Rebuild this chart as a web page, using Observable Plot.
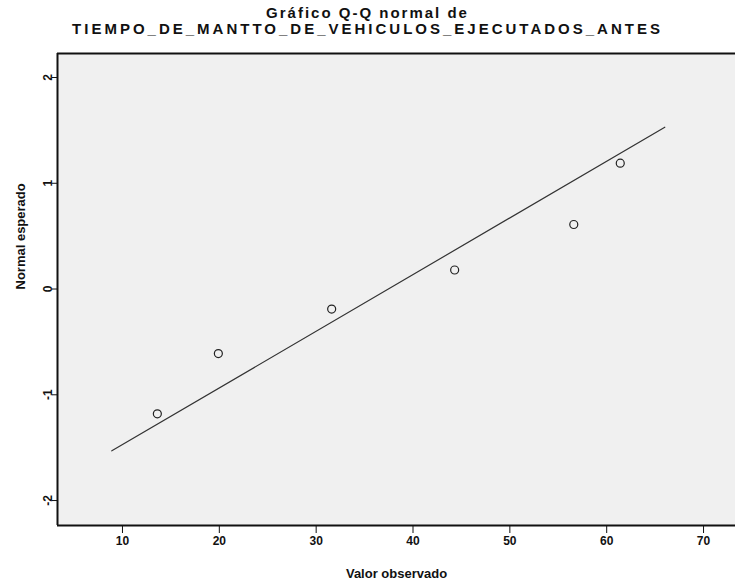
<!DOCTYPE html>
<html>
<head>
<meta charset="utf-8">
<script src="https://cdn.jsdelivr.net/npm/d3@7"></script>
<script src="https://cdn.jsdelivr.net/npm/@observablehq/plot@0.6"></script>
<style>
  html, body { margin: 0; padding: 0; background: #ffffff; }
  #wrap { width: 735px; height: 583px; position: relative; overflow: hidden; font-family: "Liberation Sans", Arial, sans-serif; }
  #title { position: absolute; left: 0; top: 5px; width: 735px; text-align: center; font-weight: bold; color: #111; line-height: 16px; }
  #t1 { font-size: 15px; letter-spacing: 2px; }
  #t2 { font-size: 15px; letter-spacing: 3px; }
  #chart { position: absolute; left: 0; top: 44px; }
</style>
</head>
<body>
<div id="wrap">
  <div id="title"><div id="t1">Gráfico Q-Q normal de</div><div id="t2">TIEMPO_DE_MANTTO_DE_VEHICULOS_EJECUTADOS_ANTES</div></div>
  <div id="chart"></div>
</div>
<script>
const xTicks = [10, 20, 30, 40, 50, 60, 70];
const yTicks = [-2, -1, 0, 1, 2];
const observed = [13.6, 19.9, 31.6, 44.3, 56.6, 61.4];
const expected = [-1.18, -0.61, -0.19, 0.18, 0.61, 1.19];
const lineObserved = [8.9, 66.0];
const lineExpected = [-1.53, 1.53];
const xDomain = [3.29, 73.3];
const yDomain = [-2.236, 2.227];

const points = observed.map((v, i) => ({observed: v, expected: expected[i]}));
const linePts = lineObserved.map((v, i) => ({observed: v, expected: lineExpected[i]}));

const chart = Plot.plot({
  width: 735,
  height: 539,
  marginTop: 9,
  marginLeft: 57,
  marginRight: 0,
  marginBottom: 58,
  style: {fontFamily: "'Liberation Sans', Arial, sans-serif", background: "transparent", color: "#111"},
  x: {domain: xDomain},
  y: {domain: yDomain},
  marks: [
    Plot.frame({fill: "#f0f0f0", stroke: null}),
    Plot.line(linePts, {x: "observed", y: "expected", stroke: "#333", strokeWidth: 1.2}),
    Plot.dot(points, {x: "observed", y: "expected", r: 4, stroke: "#222", strokeWidth: 1.2, fill: "none"}),
    Plot.ruleX([xDomain[0]], {stroke: "#111", strokeWidth: 2}),
    Plot.ruleY(yDomain, {stroke: "#111", strokeWidth: 2}),
    Plot.axisX({ticks: xTicks, tickSize: 8, tickPadding: 3, fontSize: 12, fontWeight: "bold", label: null, tickFormat: d => String(d)}),
    Plot.axisY({ticks: yTicks, tickSize: 5, tickPadding: 1, tickRotate: -90, fontSize: 12, fontWeight: "bold", label: null, tickFormat: d => String(d)}),
    Plot.text(["Valor observado"], {text: d => d, frameAnchor: "bottom", dy: 48, lineAnchor: "middle", fontSize: 13, fontWeight: "bold"}),
    Plot.text(["Normal esperado"], {text: d => d, frameAnchor: "left", dx: -37, rotate: -90, lineAnchor: "middle", fontSize: 13, fontWeight: "bold"})
  ]
});
document.getElementById("chart").appendChild(chart);
</script>
</body>
</html>
